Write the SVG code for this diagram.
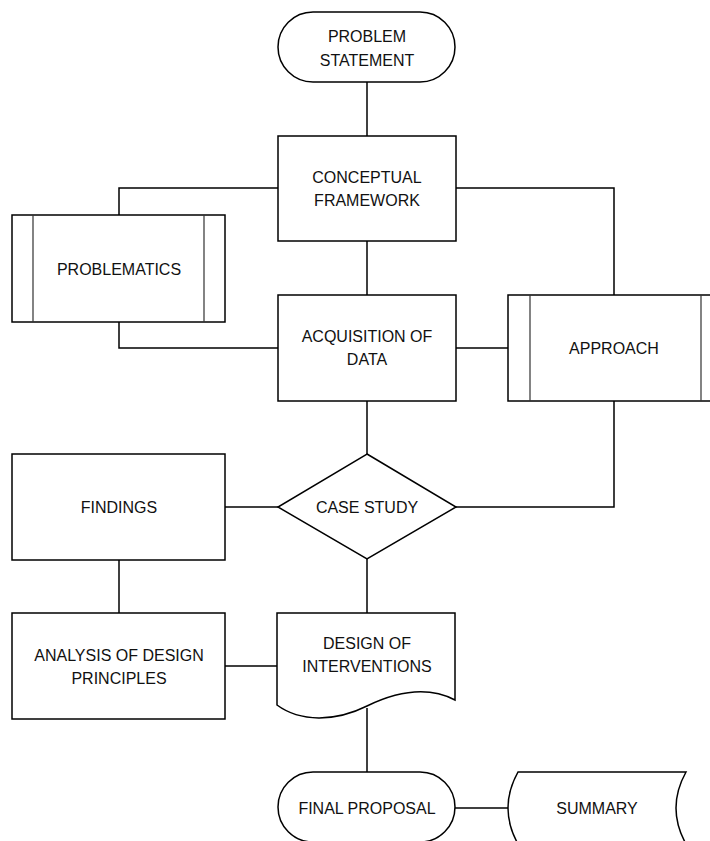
<svg xmlns="http://www.w3.org/2000/svg" width="710" height="841" viewBox="0 0 710 841">
<style>
.s{fill:#fff;stroke:#000;stroke-width:1.5}
.in{fill:none;stroke:#333;stroke-width:1.2}
.c{fill:none;stroke:#000;stroke-width:1.5}
text{font-family:"Liberation Sans",Arial,sans-serif;font-size:16px;fill:#111;text-anchor:middle;dominant-baseline:central}
</style>
<rect width="710" height="841" fill="#fff"/>
<g id="connectors">
<path class="c" d="M367,82 V136"/>
<path class="c" d="M278,188 H119 V215"/>
<path class="c" d="M456,188 H614 V295"/>
<path class="c" d="M367,241 V295"/>
<path class="c" d="M119,322 V348 H278"/>
<path class="c" d="M456,348 H508"/>
<path class="c" d="M367,401 V454"/>
<path class="c" d="M614,401 V507 H456"/>
<path class="c" d="M225,507 H278"/>
<path class="c" d="M119,560 V613"/>
<path class="c" d="M367,559 V613"/>
<path class="c" d="M225,666 H278"/>
<path class="c" d="M367,708 V772"/>
<path class="c" d="M455,808 H508"/>
</g>
<g id="problem-statement">
<rect class="s" x="278" y="12" width="177" height="70" rx="35"/>
<text x="367" y="36">PROBLEM</text>
<text x="367" y="60">STATEMENT</text>
</g>
<g id="conceptual-framework">
<rect class="s" x="278" y="136" width="178" height="105"/>
<text x="367" y="177">CONCEPTUAL</text>
<text x="367" y="200">FRAMEWORK</text>
</g>
<g id="problematics">
<rect class="s" x="12" y="215" width="213" height="107"/>
<path class="in" d="M33,215 V322 M204,215 V322"/>
<text x="119" y="269">PROBLEMATICS</text>
</g>
<g id="acquisition-of-data">
<rect class="s" x="278" y="295" width="178" height="106"/>
<text x="367" y="336">ACQUISITION OF</text>
<text x="367" y="359">DATA</text>
</g>
<g id="approach">
<rect class="s" x="508" y="295" width="210" height="106"/>
<path class="in" d="M530,295 V401 M701,295 V401"/>
<text x="614" y="348">APPROACH</text>
</g>
<g id="findings">
<rect class="s" x="12" y="454" width="213" height="106"/>
<text x="119" y="507">FINDINGS</text>
</g>
<g id="case-study">
<polygon class="s" points="367,454 456,507 367,559 278,507"/>
<text x="367" y="507">CASE STUDY</text>
</g>
<g id="analysis-of-design-principles">
<rect class="s" x="12" y="613" width="213" height="106"/>
<text x="119" y="655">ANALYSIS OF DESIGN</text>
<text x="119" y="678">PRINCIPLES</text>
</g>
<g id="design-of-interventions">
<path class="s" d="M277,613 H455 V700 C430,687 400,690 367,706 C335,722 300,722 277,705 Z"/>
<text x="367" y="643">DESIGN OF</text>
<text x="367" y="666">INTERVENTIONS</text>
</g>
<g id="final-proposal">
<rect class="s" x="278" y="772" width="177" height="70" rx="35"/>
<text x="367" y="808">FINAL PROPOSAL</text>
</g>
<g id="summary">
<path class="s" d="M518,772 H686 Q666,808 686,844 H518 Q498,808 518,772 Z"/>
<text x="597" y="808">SUMMARY</text>
</g>
</svg>
